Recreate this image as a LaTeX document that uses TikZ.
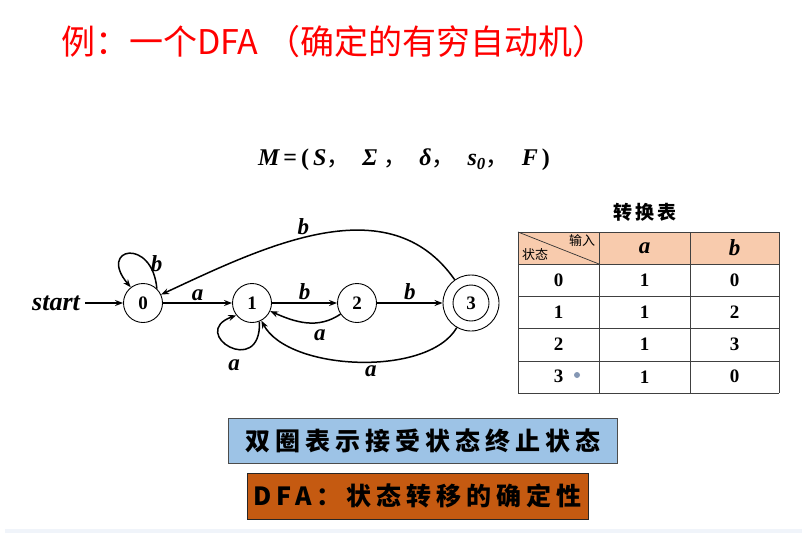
\documentclass[tikz,border=0pt]{standalone}
\usepackage{fontspec}
\setmainfont{Liberation Serif}
\newfontfamily\cjk{Noto Sans CJK SC}
\newfontfamily\cjkwide[LetterSpace=20]{Noto Sans CJK SC}
\usetikzlibrary{arrows.meta}

\definecolor{titlered}{RGB}{255,0,0}
\definecolor{headpeach}{RGB}{248,203,173}
\definecolor{noteblue}{RGB}{157,195,230}
\definecolor{noteorange}{RGB}{197,90,17}
\definecolor{dotgray}{RGB}{132,151,180}
\definecolor{bandgray}{RGB}{240,244,250}

\newcommand\zhcomma{{\cjk\upshape\mdseries ，}}

\begin{document}
\begin{tikzpicture}[x=1pt, y=1pt, >={Stealth[length=8pt,width=6pt]},
    state/.style={circle, draw, line width=0.9pt, minimum size=39pt, inner sep=0pt,
        font=\fontsize{19}{19}\selectfont\bfseries},
    edge/.style={->, line width=1.5pt},
    lab/.style={font=\fontsize{23}{23}\selectfont\bfseries\itshape, inner sep=2pt},
    cell/.style={font=\fontsize{19}{19}\selectfont\bfseries},
    tabline/.style={draw=black!75, line width=1pt},
    notebox/.style={draw=black!70, line width=0.8pt, inner sep=0pt,
        font=\fontsize{25}{25}\selectfont\cjkwide\bfseries}]
    \useasboundingbox (0,0) rectangle (802,-533);
    \fill[bandgray] (5,-529) rectangle (802,-533);

    \node[anchor=west, inner sep=0pt, text=titlered, font=\fontsize{34}{34}\selectfont\cjk] (title)
        at (61,-42) {例：一个DFA （确定的有穷自动机）};

    \node[font=\fontsize{24}{24}\selectfont\bfseries\itshape] (tuple) at (404,-160)
        {M\,{\upshape =}\,{\upshape (}\,S\zhcomma\ \ Σ\ \zhcomma\ \ δ\zhcomma\ \ s\textsubscript{0}\zhcomma\ \ F\,{\upshape )}};

    % the automaton
    \begin{scope}
        \node[state] (s0) at (143,-303) {0};
        \node[state] (s1) at (252,-303) {1};
        \node[state] (s2) at (357,-303) {2};
        \node[state, minimum size=56pt] (s3) at (471,-303) {};
        \node[state, minimum size=36pt] (s3in) at (471,-303) {3};
        \node[lab, font=\fontsize{26}{26}\selectfont\bfseries\itshape, inner sep=5pt] (start) at (56,-303) {start};

        \draw[edge] (start) -- (s0);
        \draw[edge] (s0) -- node[lab, above] {a} (s1);
        \draw[edge] (s1) -- node[lab, above] {b} (s2);
        \draw[edge] (s2) -- node[lab, above] {b} (s3);

        \draw[edge] (s2) to[out=214, in=-24] node[lab, pos=0.3, below=5pt] {a} (s1);
        \draw[edge] (s3) to[out=125, in=25] node[lab, pos=0.56, above] {b} (s0);
        \draw[edge] (s3) to[out=240, in=-62, looseness=0.75] node[lab, pos=0.45, below=1pt] {a} (s1);

        % self loops
        \draw[edge] (s0.46) .. controls +(95:52) and +(130:52) .. node[lab, pos=0.22, right=0pt] {b} (s0.128);
        \draw[edge] (s1.-68) .. controls +(-88:58) and +(200:52) .. node[lab, pos=0.45, below=8pt] {a} (s1.218);
    \end{scope}

    % transition table
    \begin{scope}
        \node[font=\fontsize{19}{19}\selectfont\cjk\bfseries] (tabtitle) at (645,-212) {转\,换\,表};
        \fill[headpeach] (518,-232) rectangle (779,-264);
        \foreach \y in {232,264,296,328,361,393}
            \draw[tabline] (518,-\y) -- (779,-\y);
        \foreach \x in {518,599,690,779}
            \draw[tabline] (\x,-232) -- (\x,-393);
        \draw[black!80, line width=0.7pt] (518,-232) -- (599,-264);
        \node[font=\fontsize{13}{13}\selectfont\cjk] (hin) at (582,-241) {输入};
        \node[font=\fontsize{13}{13}\selectfont\cjk] (hstate) at (535,-255) {状态};
        \node[lab] (ha) at (644.5,-248) {a};
        \node[lab] (hb) at (734.5,-248) {b};
        \foreach \s/\na/\nb [count=\i] in {0/1/0, 1/1/2, 2/1/3, 3/1/0} {
            \pgfmathsetmacro\ry{-280-32.25*(\i-1)}
            \node[cell] (st-\i) at (558.5,\ry) {\s};
            \node[cell] (ca-\i) at (644.5,\ry) {\na};
            \node[cell] (cb-\i) at (734.5,\ry) {\nb};
        }
        \fill[dotgray] (577,-375) circle (3);
    \end{scope}

    \node[notebox, fill=noteblue, minimum width=389pt, minimum height=45pt] (accept)
        at (422.5,-440.5) {双圈表示接受状态终止状态};
    \node[notebox, fill=noteorange, draw=black!85, minimum width=341pt, minimum height=46pt] (determ)
        at (417.5,-496) {DFA：状态转移的确定性};
\end{tikzpicture}
\end{document}
